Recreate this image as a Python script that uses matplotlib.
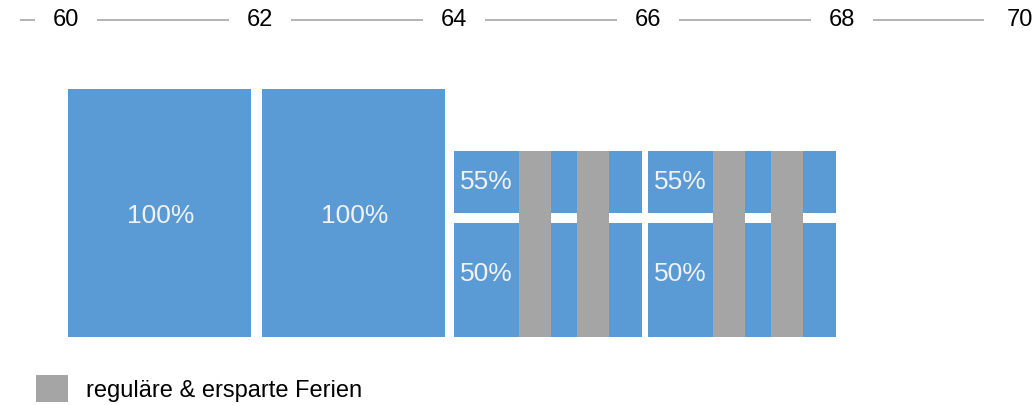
import matplotlib
matplotlib.use("Agg")
import matplotlib.pyplot as plt
import matplotlib.transforms as mtransforms
from matplotlib.patches import Patch

plt.rcParams['font.family'] = ['Liberation Sans', 'DejaVu Sans']

# --- data ---
age_ticks = [60, 62, 64, 66, 68, 70]
full_starts = [60, 62]             # 2-year blocks at 100%
full_labels = ["100%", "100%"]
full_height = 100

part_starts = [64, 66]             # 2-year blocks split in two phases
lower_height = 46                  # 50% phase
lower_label = "50%"
upper_bottom = 50
upper_height = 25                  # 55% phase
upper_label = "55%"

# holiday strips inside each split block (offset from block start, width in years)
holiday_offsets = [0.67, 1.27]
holiday_width = 0.33
legend_label = "reguläre & ersparte Ferien"

blue = "#5B9BD5"
grey = "#A5A5A5"
txt = "#F2F2F2"

bar_pad = 0.02
bar_w = 1.92

fig = plt.figure(figsize=(10.34, 4.05), dpi=100)
ax = fig.add_axes([0, 0, 1, 1])
ax.set_xlim(60 - 66 / 97, 60 + (1034 - 66) / 97)
ax.set_ylim(-27.4, 135.9)
ax.axis("off")

# full bars
for s, lab in zip(full_starts, full_labels):
    ax.bar(s + bar_pad, full_height, width=bar_w - 0.03, align="edge", color=blue)
    ax.text(s + bar_pad + bar_w / 2, full_height / 2 - 1, lab, ha="center", va="center",
            color=txt, fontsize=19)

# split bars
for s in part_starts:
    ax.bar(s, lower_height, width=bar_w + 0.02, align="edge", color=blue)
    ax.bar(s, upper_height, bottom=upper_bottom, width=bar_w + 0.02, align="edge", color=blue)
    for off in holiday_offsets:
        ax.bar(s + off, upper_bottom + upper_height, width=holiday_width, align="edge", color=grey)
    cx = s + holiday_offsets[0] / 2
    ax.text(cx, upper_bottom + upper_height / 2, upper_label, ha="center", va="center",
            color=txt, fontsize=19)
    ax.text(cx, lower_height / 2 + 2.5, lower_label, ha="center", va="center",
            color=txt, fontsize=19)

# top age axis
y_top = 127.8
ax.hlines(y_top, 59.53, 69.46, color="#A6A6A6", lw=1.2, zorder=1)
for t in age_ticks:
    if t == age_ticks[-1]:
        tr = ax.transData + mtransforms.ScaledTranslation(-0.03, 0, fig.dpi_scale_trans)
        ax.text(t, y_top, str(t), ha="right", va="center", fontsize=17, color="black",
                transform=tr, bbox=dict(facecolor="white", edgecolor="none", pad=12), zorder=2)
    else:
        ax.text(t, y_top, str(t), ha="center", va="center", fontsize=17, color="black",
                bbox=dict(facecolor="white", edgecolor="none", pad=13), zorder=2)

handles = [Patch(facecolor=grey, edgecolor="none", label=legend_label)]
fig.legend(handles=handles, loc="lower left", bbox_to_anchor=(0.014, -0.045), frameon=False,
           fontsize=17, handlelength=1.35, handleheight=1.35, handletextpad=0.8)

fig.savefig("out.png", dpi=100)
